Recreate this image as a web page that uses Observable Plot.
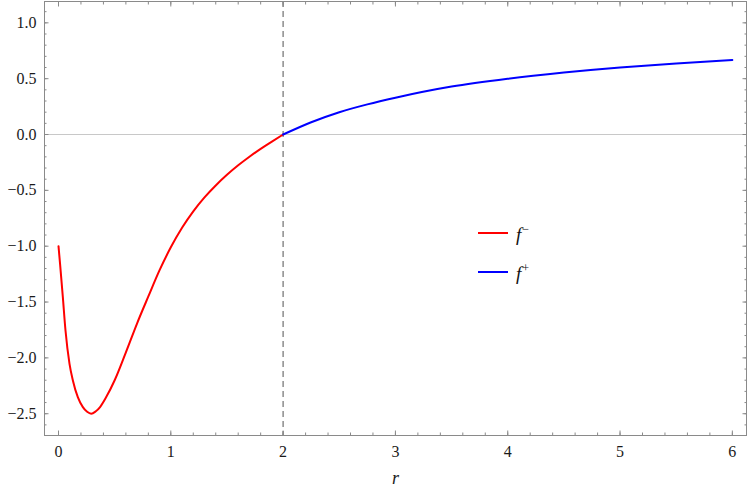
<!DOCTYPE html>
<html>
<head>
<meta charset="utf-8">
<script src="https://cdn.jsdelivr.net/npm/d3@7"></script>
<script src="https://cdn.jsdelivr.net/npm/@observablehq/plot@0.6"></script>
<style>
  html, body { margin: 0; padding: 0; background: #fff; }
  #wrap { position: relative; width: 747px; height: 491px; }
</style>
</head>
<body>
<div id="wrap"></div>
<script>
// f^- (red)
const rMinus = [0, 0.0148, 0.0386, 0.0623, 0.098, 0.128, 0.172, 0.217, 0.255, 0.291, 0.33, 0.37, 0.42, 0.5, 0.6, 0.7, 0.8, 0.9, 1.0, 1.1, 1.2, 1.3, 1.4, 1.5, 1.6, 1.7, 1.8, 1.9, 2.0];
const fMinus = [-1.0, -1.17, -1.456, -1.755, -2.053, -2.202, -2.352, -2.441, -2.483, -2.5, -2.48, -2.44, -2.36, -2.2, -1.95, -1.69, -1.45, -1.215, -1.01, -0.835, -0.688, -0.563, -0.456, -0.361, -0.276, -0.199, -0.129, -0.064, 0.0];
// f^+ (blue)
const rPlus = [2.0, 2.25, 2.5, 2.75, 3.0, 3.5, 4.0, 4.5, 5.0, 5.5, 6.0];
const fPlus = [0.0, 0.11, 0.2, 0.27, 0.33, 0.43, 0.5, 0.555, 0.6, 0.636, 0.667];

const xMajor = [0, 1, 2, 3, 4, 5, 6];
const yMajor = [-2.5, -2.0, -1.5, -1.0, -0.5, 0.0, 0.5, 1.0];
const xMinor = d3.range(0, 6.01, 0.2).map(v => +v.toFixed(2));
const yMinor = d3.range(-2.6, 1.15, 0.1).map(v => +v.toFixed(2));
const rBoundary = [2];
const zeroLine = [0];

const minus = rMinus.map((r, i) => ({r, f: fMinus[i]}));
const plus = rPlus.map((r, i) => ({r, f: fPlus[i]}));

const serifStack = "'Liberation Serif', 'Times New Roman', serif";
const frameColor = "#8a8a8a";
const textColor = "#1a1a1a";
const blank = () => "";

const chart = Plot.plot({
  width: 747,
  height: 491,
  marginLeft: 44,
  marginRight: 1,
  marginTop: 1,
  marginBottom: 56,
  x: { domain: [-0.1247, 6.126] },
  y: { domain: [-2.695, 1.191] },
  marks: [
    Plot.ruleY(zeroLine, { stroke: "#c8c8c8", strokeWidth: 1 }),
    Plot.ruleX(rBoundary, { stroke: "#8c8c8c", strokeWidth: 1.5, strokeDasharray: "6,4" }),
    Plot.line(minus, { x: "r", y: "f", stroke: "#ff0000", strokeWidth: 2, curve: "monotone-x" }),
    Plot.line(plus, { x: "r", y: "f", stroke: "#0000ff", strokeWidth: 2, curve: "monotone-x" }),
    // labels
    Plot.axisX({ ticks: xMajor, tickSize: 0, tickPadding: 10.5, tickFormat: d3.format("d"), label: null, fill: textColor, fontSize: 16 }),
    Plot.axisY({ ticks: yMajor, tickSize: 0, tickPadding: 8, tickFormat: d3.format(".1f"), label: null, fill: textColor, fontSize: 16 }),
    // inward ticks on all four sides
    Plot.axisX({ anchor: "bottom", ticks: xMajor, tickSize: -4.5, tickFormat: blank, label: null, stroke: frameColor }),
    Plot.axisX({ anchor: "bottom", ticks: xMinor, tickSize: -2.5, tickFormat: blank, label: null, stroke: frameColor }),
    Plot.axisX({ anchor: "top", ticks: xMajor, tickSize: -4.5, tickFormat: blank, label: null, stroke: frameColor }),
    Plot.axisX({ anchor: "top", ticks: xMinor, tickSize: -2.5, tickFormat: blank, label: null, stroke: frameColor }),
    Plot.axisY({ anchor: "left", ticks: yMajor, tickSize: -4.5, tickFormat: blank, label: null, stroke: frameColor }),
    Plot.axisY({ anchor: "left", ticks: yMinor, tickSize: -2.5, tickFormat: blank, label: null, stroke: frameColor }),
    Plot.axisY({ anchor: "right", ticks: yMajor, tickSize: -4.5, tickFormat: blank, label: null, stroke: frameColor }),
    Plot.axisY({ anchor: "right", ticks: yMinor, tickSize: -2.5, tickFormat: blank, label: null, stroke: frameColor }),
    Plot.frame({ stroke: frameColor, strokeWidth: 1 }),
    Plot.text(["r"], { frameAnchor: "bottom", dy: 48, lineAnchor: "bottom", fontStyle: "italic", fontSize: 18, fill: textColor })
  ]
});

// force the serif face with inline styles (highest priority)
chart.style.fontFamily = serifStack;
chart.removeAttribute("font-family");
chart.querySelectorAll("g, text, tspan").forEach(el => {
  el.removeAttribute("font-family");
  el.style.fontFamily = serifStack;
});

const wrap = document.getElementById("wrap");
wrap.appendChild(chart);

const legendItems = [
  { color: "#ff0000", label: "f", sup: "\u2212", top: 233 },
  { color: "#0000ff", label: "f", sup: "+", top: 272 }
];
for (const it of legendItems) {
  const sw = document.createElement("div");
  sw.style.position = "absolute";
  sw.style.left = "478px";
  sw.style.top = (it.top - 1) + "px";
  sw.style.width = "30px";
  sw.style.height = "2px";
  sw.style.background = it.color;
  wrap.appendChild(sw);
  const t = document.createElement("div");
  t.style.position = "absolute";
  t.style.left = "516px";
  t.style.top = (it.top - 10) + "px";
  t.style.fontFamily = serifStack;
  t.style.fontSize = "19px";
  t.style.lineHeight = "1";
  t.style.color = "#111";
  const f = document.createElement("span");
  f.style.fontStyle = "italic";
  f.textContent = it.label;
  const s = document.createElement("sup");
  s.style.fontSize = "12px";
  s.style.verticalAlign = "8px";
  s.style.marginLeft = "1px";
  s.textContent = it.sup;
  t.appendChild(f);
  t.appendChild(s);
  wrap.appendChild(t);
}
</script>
</body>
</html>
